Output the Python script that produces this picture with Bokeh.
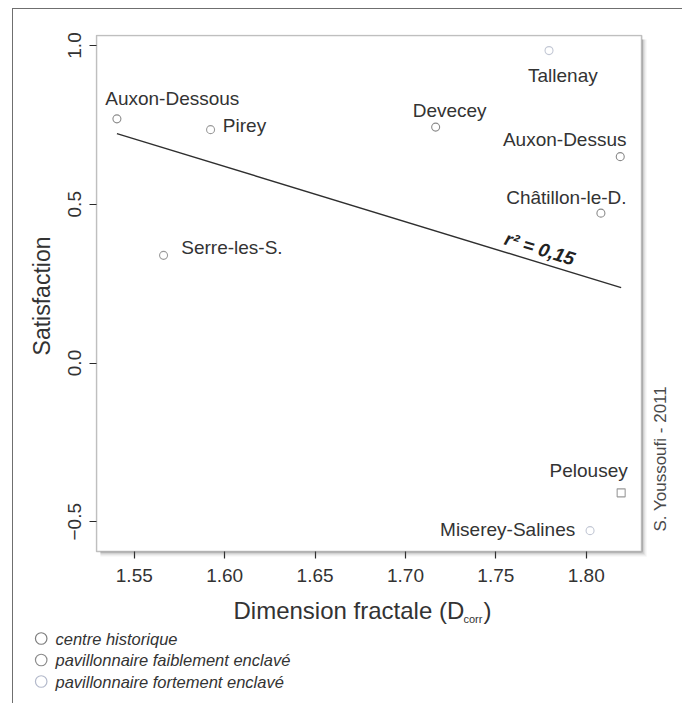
import math
import numpy as np
from bokeh.plotting import figure
from bokeh.layouts import column
from bokeh.models import ColumnDataSource, Range1d, FixedTicker, LinearAxis, BoxAnnotation
from bokeh.core.properties import value
from bokeh.embed import file_html
from bokeh.resources import INLINE

# ---------------- data ----------------
communes = ["Auxon-Dessous", "Devecey", "Auxon-Dessus", "Châtillon-le-D.",
            "Pirey", "Serre-les-S.", "Pelousey",
            "Tallenay", "Miserey-Salines"]
dimension = [1.5404, 1.7167, 1.8188, 1.8081,
             1.5922, 1.5662, 1.8193,
             1.7794, 1.8021]
satisfaction = [0.769, 0.743, 0.650, 0.472,
                0.735, 0.339, -0.409,
                0.984, -0.528]
typologie = ["centre historique"] * 4 + \
            ["pavillonnaire faiblement enclavé"] * 3 + \
            ["pavillonnaire fortement enclavé"] * 2
categories = ["centre historique",
              "pavillonnaire faiblement enclavé",
              "pavillonnaire fortement enclavé"]
x_ticks = [1.55, 1.60, 1.65, 1.70, 1.75, 1.80]
x_tick_labels = ["1.55", "1.60", "1.65", "1.70", "1.75", "1.80"]
y_ticks = [-0.5, 0.0, 0.5, 1.0]
y_tick_labels = ["\u22120.5", "0.0", "0.5", "1.0"]
r2_text = "r\u00b2 = 0,15"
x_title = ["Dimension fractale (D", "corr", ")"]
y_title = "Satisfaction"
credit = "S. Youssoufi - 2011"

# ---------------- layout / style ----------------
FONT = "Liberation Sans"
TXT = "#333333"
cat_colors = ["#8a8a8a", "#9a9a9a", "#c2c7d4"]
legend_colors = ["#7d7d7d", "#8c8c8c", "#b3b9cb"]
markers = ["circle", "circle", "circle", "circle",
           "circle", "circle", "square",
           "circle", "circle"]
# commune label offsets in pixels from each point (left / baseline anchor)
lab_dx = [-11.7, -23, -117.3, -94.7, 12.3, 17.7, -71.6, -21, -150]
lab_dy = [-20.3, -16.7, -17, -15.7, -4, -8, -22.3, 24.7, -0.7]

# plotting box (data limits of the drawn box)
X0, X1 = 1.5291, 1.8306
Y0, Y1 = -0.5937, 1.0315
SX, SY = 1834.0, 317.5          # pixels per unit
PAD_LT, PAD_RB = 1, 6           # frame extends past the box (room for the drop shadow)
XS, XE = X0 - PAD_LT / SX, X1 + PAD_RB / SX
YS, YE = Y0 - PAD_RB / SY, Y1 + PAD_LT / SY
CREDIT_Y = Y1 - (531 - 35) / SY      # lower end of the vertical credit line

MAIN_W, MAIN_H = 669, 587
FOOT_H = 107
FR_W, FR_H = 553 + PAD_LT + PAD_RB, 516 + PAD_LT + PAD_RB

p = figure(width=MAIN_W, height=MAIN_H, x_range=Range1d(XS, XE), y_range=Range1d(YS, YE),
           output_backend="svg", toolbar_location=None,
           min_border_left=82, min_border_right=MAIN_W - 82 - FR_W,
           min_border_top=25, min_border_bottom=MAIN_H - 25 - FR_H)
p.frame_align = False
p.background_fill_color = "white"
p.border_fill_color = "white"
p.xgrid.visible = False
p.ygrid.visible = False
p.outline_line_color = None

for ax in (p.xaxis[0], p.yaxis[0]):
    ax.axis_line_color = None
    ax.major_tick_line_color = "#2a2a2a"
    ax.major_tick_line_width = 1.2
    ax.minor_tick_out = 0
    ax.minor_tick_in = 0
    ax.major_label_text_font = FONT
    ax.major_label_text_font_size = "19px"
    ax.major_label_text_color = TXT

p.xaxis.ticker = FixedTicker(ticks=x_ticks)
p.xaxis.major_label_overrides = dict(zip(x_ticks, x_tick_labels))
p.xaxis.major_tick_in = PAD_RB
p.xaxis.major_tick_out = 1
p.xaxis.major_label_standoff = 10
p.yaxis.ticker = FixedTicker(ticks=y_ticks)
p.yaxis.major_label_overrides = dict(zip(y_ticks, y_tick_labels))
p.yaxis.major_tick_in = PAD_LT
p.yaxis.major_tick_out = 6
p.yaxis.major_label_orientation = "vertical"
p.yaxis.major_label_standoff = 8
p.yaxis.axis_label = y_title
p.yaxis.axis_label_text_font = FONT
p.yaxis.axis_label_text_font_size = "23px"
p.yaxis.axis_label_text_font_style = "normal"
p.yaxis.axis_label_text_color = TXT
p.yaxis.axis_label_standoff = 11

# credit written vertically at the right of the box
cr = LinearAxis(ticker=FixedTicker(ticks=[CREDIT_Y]),
                major_label_overrides={CREDIT_Y: credit},
                major_label_orientation=math.pi / 2,
                major_label_standoff=7,
                major_label_text_font=FONT, major_label_text_font_size="17px",
                major_label_text_color="#4a4a4a",
                axis_line_color=None, major_tick_line_color=None,
                minor_tick_line_color=None)
p.add_layout(cr, "right")

# drop shadow (right and bottom) and the box itself
for k, a in enumerate([0.42, 0.3, 0.19, 0.1, 0.05]):
    p.add_layout(BoxAnnotation(left=X1 + (k + 0.3) / SX, right=X1 + (k + 1.3) / SX,
                               top=Y1 - 4 / SY, bottom=Y0 - (k + 1.3) / SY,
                               fill_color="#555555", fill_alpha=a, line_color=None))
    p.add_layout(BoxAnnotation(left=X0 + 4 / SX, right=X1 + (k + 0.3) / SX,
                               top=Y0 - (k + 0.3) / SY, bottom=Y0 - (k + 1.3) / SY,
                               fill_color="#555555", fill_alpha=a, line_color=None))
p.add_layout(BoxAnnotation(left=X0, right=X1, top=Y1, bottom=Y0, fill_color=None,
                           line_color="#2a2a2a", line_width=1.6))

# regression line
slope, intercept = np.polyfit(dimension, satisfaction, 1)
fit_x = [min(dimension), max(dimension)]
fit_y = [slope * v + intercept for v in fit_x]
p.line(fit_x, fit_y, line_color="#2f2f2f", line_width=1.4)

# points by category
for cat, col in zip(categories, cat_colors):
    idx = [i for i, t in enumerate(typologie) if t == cat]
    src = ColumnDataSource(dict(x=[dimension[i] for i in idx],
                                y=[satisfaction[i] for i in idx],
                                m=[markers[i] for i in idx]))
    p.scatter("x", "y", source=src, marker="m", size=8, fill_color=None,
              line_color=col, line_width=1.1)

# commune labels
lab_src = ColumnDataSource(dict(x=dimension, y=satisfaction, t=communes,
                                dx=lab_dx, dy=lab_dy))
p.text("x", "y", text="t", source=lab_src, x_offset="dx", y_offset="dy",
       text_font=value(FONT), text_font_size=value("19px"), text_color=TXT,
       text_align="left", text_baseline="alphabetic")

# r^2 annotation along the line
r2_x = 1.7743
r2_src = ColumnDataSource(dict(x=[r2_x], y=[slope * r2_x + intercept], t=[r2_text]))
p.text("x", "y", text="t", source=r2_src, y_offset=-14, angle=-0.30,
       text_font=value(FONT), text_font_size=value("19px"), text_font_style="bold italic",
       text_color="#222222", text_align="center", text_baseline="middle")

# ---------------- footer: x title + legend (pixel coordinates of the page) ----------------
f = figure(width=MAIN_W, height=FOOT_H, x_range=Range1d(13, 13 + MAIN_W),
           y_range=Range1d(596 + FOOT_H, 596), output_backend="svg",
           toolbar_location=None, min_border=0, x_axis_type=None, y_axis_type=None)
f.frame_align = False
f.xgrid.visible = False
f.ygrid.visible = False
f.outline_line_color = None
f.background_fill_color = "white"
f.border_fill_color = "white"

title_src = ColumnDataSource(dict(x=[233, 463, 483], y=[610, 618.5, 610], t=x_title,
                                  fs=["24px", "11px", "24px"]))
f.text("x", "y", text="t", source=title_src, text_font=value(FONT), text_font_size="fs",
       text_color=TXT, text_align="left", text_baseline="alphabetic")

leg_y = [638, 659.5, 681]
f.scatter([40.7] * 3, leg_y, marker="circle", size=11.5, fill_color=None,
          line_color=legend_colors, line_width=1.2)
f.text([55] * 3, leg_y, text=categories, text_font=value(FONT),
       text_font_size=value("16.5px"), text_font_style="italic", text_color=TXT,
       text_align="left", text_baseline="middle")

layout = column(p, f, styles={"margin-left": "12px", "margin-top": "8px",
                              "border-left": "1px solid #6f6f6f",
                              "border-top": "1px solid #6f6f6f"})

open("out.html", "w").write(file_html(layout, INLINE))
